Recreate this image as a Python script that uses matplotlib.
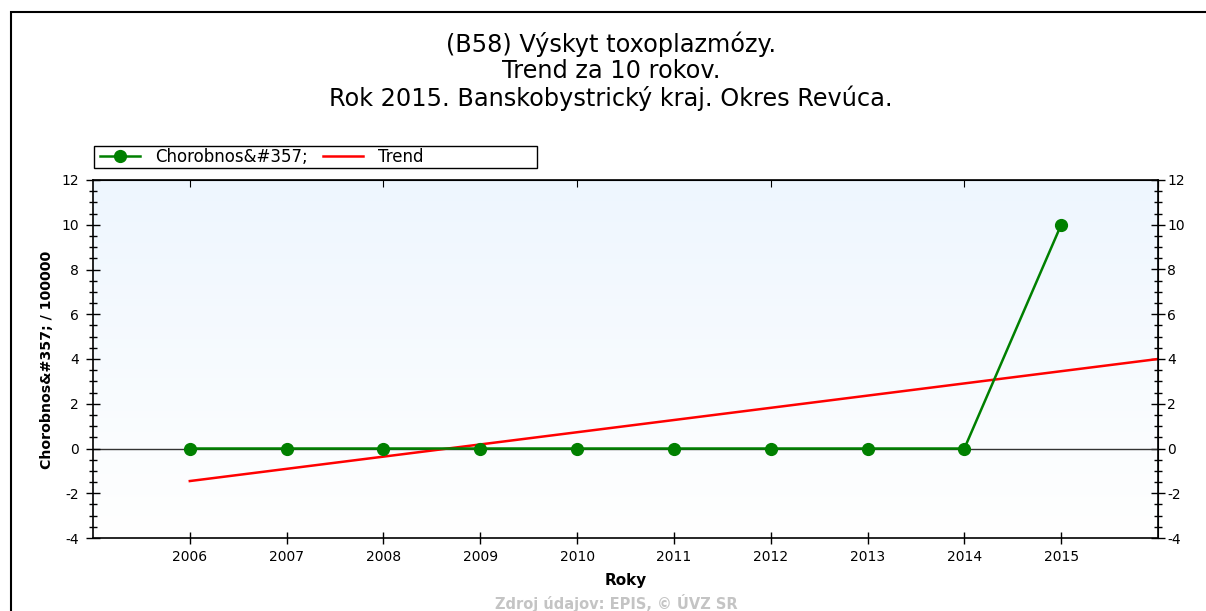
import numpy as np
import matplotlib.pyplot as plt
from matplotlib.colors import LinearSegmentedColormap
from matplotlib.patches import Rectangle
from matplotlib.ticker import MultipleLocator

plt.rcParams['font.family'] = ['DejaVu Sans']
plt.rcParams['axes.unicode_minus'] = False

# výskyt na 100 000 obyvateľov
roky = [2006, 2007, 2008, 2009, 2010, 2011, 2012, 2013, 2014, 2015]
chorobnost = [0, 0, 0, 0, 0, 0, 0, 0, 0, 10]
trend_roky = [2006, 2016]

# lineárny trend cez namerané hodnoty
k, q = np.polyfit(roky, chorobnost, 1)
trend = [k * r + q for r in trend_roky]

W, H = 1206, 611
fig = plt.figure(figsize=(W / 100, H / 100), dpi=100)
fig.patches.append(Rectangle((11 / W, -0.1), 1.2, 1 - 12 / H + 0.1,
                             transform=fig.transFigure, fill=False,
                             edgecolor='black', linewidth=1.5))

ax = fig.add_axes([93 / W, 1 - 538 / H, (1158 - 93) / W, (538 - 180) / H])

# jemný prechod pozadia
grad = np.linspace(0, 1, 256).reshape(-1, 1)
ax.imshow(grad, extent=[0, 1, 0, 1], transform=ax.transAxes, aspect='auto',
          cmap=LinearSegmentedColormap.from_list('bg', ['#eef6fe', '#ffffff']),
          zorder=0)

ax.axhline(0, color='#333333', linewidth=1, zorder=1)
ax.plot(trend_roky, trend, color='red', linewidth=1.8, zorder=2, label='Trend')
ax.plot(roky, chorobnost, color='#008000', linewidth=1.8, marker='o',
        markersize=8.5, zorder=3, label='Chorobnos&#357;')

ax.set_xlim(2005, 2016)
ax.set_ylim(-4, 12)
ax.set_xticks(roky)
ax.yaxis.set_major_locator(MultipleLocator(2))
ax.yaxis.set_minor_locator(MultipleLocator(0.5))

ax.tick_params(axis='y', which='major', direction='inout', length=10, width=1,
               labelsize=10, pad=5)
ax.tick_params(axis='y', which='minor', direction='inout', length=5.5, width=1)
ax.tick_params(axis='x', which='major', direction='inout', length=9, width=1,
               labelsize=10, pad=4)

# pravá os s rovnakou stupnicou
ay = ax.secondary_yaxis('right')
ay.yaxis.set_major_locator(MultipleLocator(2))
ay.yaxis.set_minor_locator(MultipleLocator(0.5))
ay.tick_params(which='major', direction='inout', length=10, width=1,
               labelsize=10, pad=1.5)
ay.tick_params(which='minor', direction='inout', length=5.5, width=1)

ax.secondary_xaxis('top').tick_params(direction='in', length=5, labeltop=False)
for s in ax.spines.values():
    s.set_linewidth(1.2)

ax.set_xlabel('Roky', fontsize=11, fontweight='bold', va='top')
ax.xaxis.set_label_coords(0.5, -0.097)
ax.set_ylabel('Chorobnos&#357; / 100000', fontsize=10.2, fontweight='bold')
ax.yaxis.set_label_coords(-0.037, 0.497)

# legenda s vlastným rámom
h, l = ax.get_legend_handles_labels()
fig.legend(h[::-1], l[::-1], loc='center left', ncol=2,
           bbox_to_anchor=(94 / W, 1 - 157 / H), fontsize=12,
           frameon=False, borderpad=0.35, handlelength=2.4,
           columnspacing=0.9, borderaxespad=0, handletextpad=0.9)
fig.patches.append(Rectangle((94 / W, 1 - 168 / H), (537 - 94) / W, 22 / H,
                             transform=fig.transFigure, fill=False,
                             edgecolor='black', linewidth=1))

for y, txt in [(44, '(B58) Výskyt toxoplazmózy.'),
               (71, 'Trend za 10 rokov.'),
               (98, 'Rok 2015. Banskobystrický kraj. Okres Revúca.')]:
    fig.text(611 / W, 1 - y / H, txt, ha='center', va='center', fontsize=17.3)

fig.text(616 / W, 1 - 603 / H, 'Zdroj údajov: EPIS, © ÚVZ SR', ha='center',
         va='center', fontsize=10.5, fontweight='bold', color='#c4c4c4')

fig.savefig('out.png', dpi=100)
